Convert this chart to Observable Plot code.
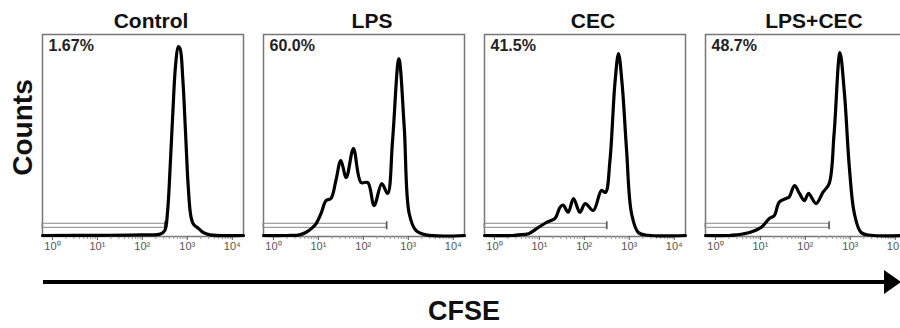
<!DOCTYPE html>
<html><head><meta charset="utf-8">
<script src="https://cdn.jsdelivr.net/npm/d3@7"></script>
<script src="https://cdn.jsdelivr.net/npm/@observablehq/plot@0.6"></script>
<style>
body{margin:0;background:#fff;overflow:hidden}
#wrap{position:relative;width:900px;height:328px;overflow:hidden;font-family:"Liberation Sans",Arial,sans-serif;background:#fff}
#chart svg{max-width:none !important}
#arrowLine{position:absolute;left:43px;top:280px;width:845px;height:4px;background:#000}
#arrowHead{position:absolute;left:884px;top:270px;width:0;height:0;border-left:17px solid #000;border-top:12px solid transparent;border-bottom:12px solid transparent}
#xlabel{position:absolute;left:0;width:928px;top:296px;text-align:center;font-weight:bold;font-size:27px;color:#111}
</style></head>
<body>
<div id="wrap"><div id="chart"></div><div id="arrowLine"></div><div id="arrowHead"></div><div id="xlabel">CFSE</div></div>
<script>
// Panel names and gate percentages
const panels = ["Control", "LPS", "CEC", "LPS+CEC"];
const percents = ["1.67%", "60.0%", "41.5%", "48.7%"];

// Histogram curves: log10(CFSE) positions and counts (% of frame height)
const controlLogX = [-0.22,1.0,2.0,2.4,2.5,2.56,2.62,2.68,2.74,2.8,2.84,2.9,2.96,3.02,3.08,3.14,3.25,3.35,3.5,4.25];
const controlY    = [0.5,0.6,0.8,1.2,3,12,35,62,85,94,93,78,52,25,10,6,4,2,0.8,0.5];

const lpsLogX = [-0.22,0.3,0.58,0.73,0.85,0.95,1.06,1.17,1.28,1.39,1.5,1.62,1.78,1.95,2.1,2.24,2.41,2.54,2.65,2.79,2.91,3.02,3.17,3.39,4.25];
const lpsY    = [0.5,0.5,0.8,2.1,4,6.4,11.4,17.8,18.8,27.7,37.6,29.2,43.5,26.7,26.7,15.3,26.2,21.3,47.5,88,54,11.4,3,0.8,0.5];

const cecLogX = [-0.22,0.4,0.53,0.76,0.98,1.16,1.35,1.46,1.53,1.64,1.76,1.9,2.02,2.2,2.38,2.47,2.57,2.68,2.76,2.84,2.94,3.05,3.2,3.42,4.25];
const cecY    = [0.5,0.5,0.8,1.4,4.5,7,9,14.5,15.5,12,18.8,12,16.3,12.9,22.8,21.8,37.6,75.7,90.6,75.7,42.6,11.4,2,0.6,0.5];

const lpsCecLogX = [-0.22,0.3,0.46,0.76,1.02,1.2,1.31,1.42,1.57,1.64,1.76,1.87,1.98,2.07,2.24,2.39,2.53,2.64,2.77,2.87,2.98,3.09,3.24,3.46,4.25];
const lpsCecY    = [0.5,0.5,0.8,2,4.6,8.9,10.4,17,18.8,19.5,25.2,21.3,17.8,21.3,16.3,21.8,26.2,51,91,70.8,34,11.4,2,0.6,0.5];

// Gate (marker) end positions, log10(CFSE)
const gateEndLogX = [2.5, 2.52, 2.5, 2.53];
const gateLow = 4.3, gateHigh = 6.3, gateTickLow = 3.3, gateTickHigh = 7.3;

// Axis
const xDomainLog = [-0.22, 4.25];
const majorTicks = [1, 10, 100, 1000, 10000];
const tickLabels = ["10⁰", "10¹", "10²", "10³", "10⁴"];
const minorTicks = [1, 10, 100, 1000].flatMap(b => [2,3,4,5,6,7,8,9].map(k => k * b));

const curveX = [controlLogX, lpsLogX, cecLogX, lpsCecLogX];
const curveY = [controlY, lpsY, cecY, lpsCecY];
const rows = [];
panels.forEach((p, i) => curveX[i].forEach((e, j) => rows.push({panel: p, x: Math.pow(10, e), y: curveY[i][j]})));
const gates = panels.map((p, i) => ({panel: p, start: Math.pow(10, xDomainLog[0]), end: Math.pow(10, gateEndLogX[i])}));

const chart = Plot.plot({
  width: 908, height: 262,
  marginLeft: 42, marginRight: 2, marginTop: 34, marginBottom: 26,
  style: {fontFamily: '"Liberation Sans", Arial, sans-serif', background: "white", maxWidth: "none"},
  fx: {domain: panels, paddingInner: 20/221, paddingOuter: 0, axis: null},
  x: {type: "log", domain: xDomainLog.map(e => Math.pow(10, e)), axis: null},
  y: {domain: [0, 100], axis: null},
  marks: [
    Plot.frame({stroke: "#777", strokeWidth: 1.5}),
    Plot.axisX({ticks: minorTicks, tickSize: 3, tickFormat: () => "", color: "#999"}),
    Plot.axisX({ticks: majorTicks, tickSize: 4, tickPadding: 2, tickFormat: d => tickLabels[majorTicks.indexOf(d)], fontSize: 11, color: "#555"}),
    Plot.rect(gates, {fx: "panel", x1: "start", x2: "end", y1: gateLow, y2: gateHigh, fill: "none", stroke: "#888", strokeWidth: 1}),
    Plot.ruleX(gates, {fx: "panel", x: "end", y1: gateTickLow, y2: gateTickHigh, stroke: "#555", strokeWidth: 1.5}),
    Plot.line(rows, {fx: "panel", x: "x", y: "y", curve: "catmull-rom", stroke: "#000", strokeWidth: 3.2}),
    Plot.text(panels, {fx: d => d, text: (d, i) => percents[i], frameAnchor: "top-left", dx: 6, dy: 5, lineAnchor: "top", fontWeight: "bold", fontSize: 16, fill: "#222"}),
    Plot.text(panels, {fx: d => d, text: d => d, frameAnchor: "top", dx: 8, dy: -7, lineAnchor: "bottom", fontWeight: "bold", fontSize: 21, fill: "#111"}),
    Plot.text(["Counts"], {fx: () => panels[0], text: d => d, frameAnchor: "left", textAnchor: "middle", rotate: -90, dx: -19, dy: -8, fontWeight: "bold", fontSize: 28, fill: "#111"})
  ]
});
document.getElementById("chart").appendChild(chart);
</script>
</body></html>
